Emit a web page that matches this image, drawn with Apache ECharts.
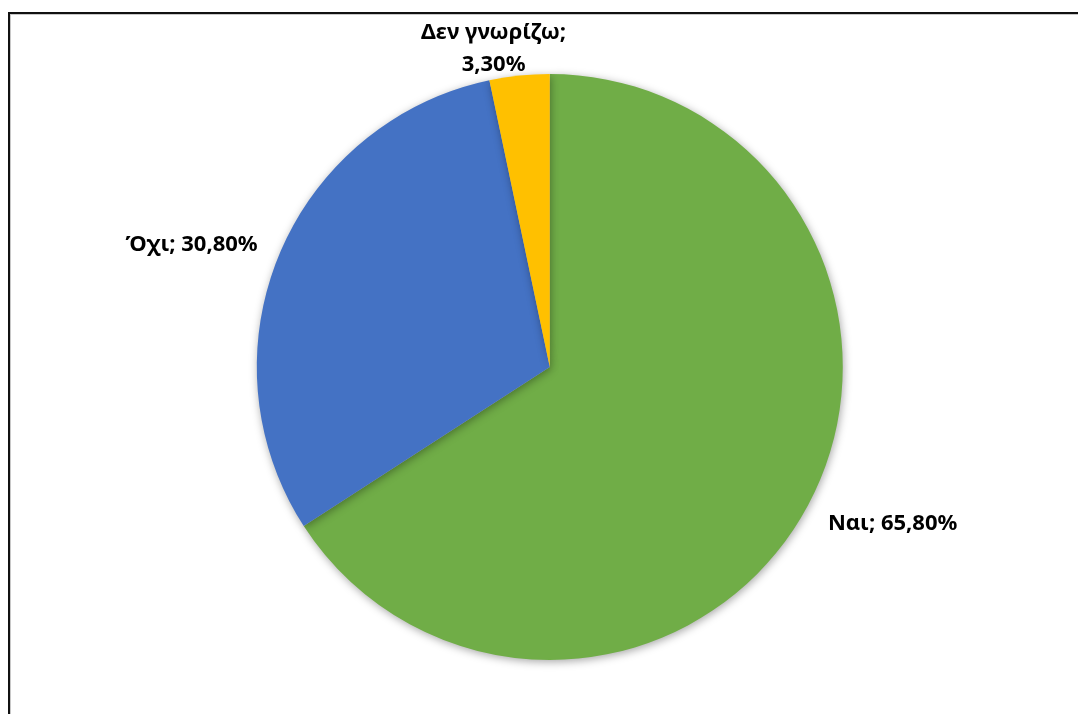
<!DOCTYPE html>
<html>
<head>
<meta charset="utf-8">
<script src="https://cdn.jsdelivr.net/npm/echarts@6/dist/echarts.min.js"></script>
<style>
  html, body { margin: 0; padding: 0; background: #fff; }
  #frame {
    position: absolute; left: 8px; top: 12px; width: 1200px; height: 800px;
    border-left: 2px solid #111; border-top: 2px solid #111;
    box-shadow: inset 1px 1px 0 #c8c8c8;
  }
  #chart { position: absolute; left: 0; top: 0; width: 1078px; height: 714px; }
</style>
</head>
<body>
<div id="frame"></div>
<div id="chart"></div>
<script>
// Survey answers and their shares (%)
const categories = ['Ναι', 'Όχι', 'Δεν γνωρίζω'];
const shares = [65.8, 30.8, 3.3];
const sliceColors = ['#70AD47', '#4472C4', '#FFC000'];

const chart = echarts.init(document.getElementById('chart'), null, { renderer: 'canvas' });

const fmt = v => v.toFixed(2).replace('.', ',') + '%';

// small nudges for the outside labels
const labelShift = [
  { dx: 0, dy: 8 },
  { dx: 0, dy: -3 },
  { align: 'center', dx: -19, dy: -9 }
];

chart.setOption({
  animation: false,
  series: [{
    type: 'pie',
    center: ['51%', '51.4%'],
    radius: 293,
    startAngle: 90,
    clockwise: true,
    data: categories.map((name, i) => ({
      name,
      value: shares[i],
      itemStyle: { color: sliceColors[i] }
    })),
    itemStyle: {
      borderWidth: 0,
      shadowBlur: 8,
      shadowOffsetX: 1,
      shadowOffsetY: 2,
      shadowColor: 'rgba(0,0,0,0.35)'
    },
    label: {
      show: true,
      position: 'outside',
      fontFamily: 'Noto Sans',
      fontWeight: 'bold',
      fontSize: 22,
      lineHeight: 32,
      color: '#000',
      formatter: p => p.name.length > 4
        ? p.name + ';\n' + fmt(p.value)
        : p.name + '; ' + fmt(p.value)
    },
    labelLine: { show: false, length: 18, length2: 0 },
    labelLayout: p => labelShift[p.dataIndex],
    emphasis: { disabled: true }
  }]
});
</script>
</body>
</html>
